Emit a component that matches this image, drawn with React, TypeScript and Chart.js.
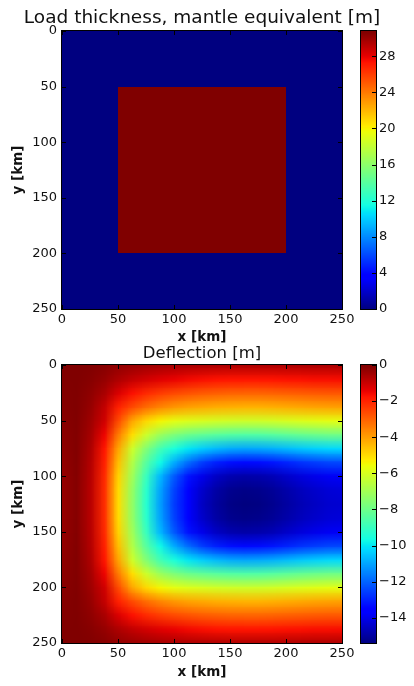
import React, { useEffect, useRef } from "react";
import { Chart, registerables } from "chart.js";

Chart.register(...registerables);

// ---------------- data ----------------
const AXIS_TICKS_KM = [0, 50, 100, 150, 200, 250];
const LOAD_CB_TICKS = [0, 4, 8, 12, 16, 20, 24, 28];
const DEFL_CB_TICKS = [0, -2, -4, -6, -8, -10, -12, -14];

const LOAD_CB_MIN = 0;
const LOAD_CB_MAX = 30.8;
const DEFL_CB_MIN = -15.4;
const DEFL_CB_MAX = 0;

// Load: 10 km cells (cell centres)
const LOAD_X_KM = [5, 15, 25, 35, 45, 55, 65, 75, 85, 95, 105, 115, 125, 135, 145, 155, 165, 175, 185, 195, 205, 215, 225, 235, 245];
const LOAD_Y_KM = [5, 15, 25, 35, 45, 55, 65, 75, 85, 95, 105, 115, 125, 135, 145, 155, 165, 175, 185, 195, 205, 215, 225, 235, 245];
const LOAD_ROW_OUTSIDE = [0, 0, 0, 0, 0, 0, 0, 0, 0, 0, 0, 0, 0, 0, 0, 0, 0, 0, 0, 0, 0, 0, 0, 0, 0];
const LOAD_ROW_INSIDE = [0, 0, 0, 0, 0, 30.8, 30.8, 30.8, 30.8, 30.8, 30.8, 30.8, 30.8, 30.8, 30.8, 30.8, 30.8, 30.8, 30.8, 30.8, 0, 0, 0, 0, 0];
const LOAD_THICKNESS = [
  LOAD_ROW_OUTSIDE, LOAD_ROW_OUTSIDE, LOAD_ROW_OUTSIDE, LOAD_ROW_OUTSIDE, LOAD_ROW_OUTSIDE,
  LOAD_ROW_INSIDE, LOAD_ROW_INSIDE, LOAD_ROW_INSIDE, LOAD_ROW_INSIDE, LOAD_ROW_INSIDE,
  LOAD_ROW_INSIDE, LOAD_ROW_INSIDE, LOAD_ROW_INSIDE, LOAD_ROW_INSIDE, LOAD_ROW_INSIDE,
  LOAD_ROW_INSIDE, LOAD_ROW_INSIDE, LOAD_ROW_INSIDE, LOAD_ROW_INSIDE, LOAD_ROW_INSIDE,
  LOAD_ROW_OUTSIDE, LOAD_ROW_OUTSIDE, LOAD_ROW_OUTSIDE, LOAD_ROW_OUTSIDE, LOAD_ROW_OUTSIDE,
];

// Deflection: values read at nodes every 12.5 km
const DEFL_X_KM = [0, 12.5, 25, 37.5, 50, 62.5, 75, 87.5, 100, 112.5, 125, 137.5, 150, 162.5, 175, 187.5, 200, 212.5, 225, 237.5, 250];
const DEFL_Y_KM = [0, 12.5, 25, 37.5, 50, 62.5, 75, 87.5, 100, 112.5, 125, 137.5, 150, 162.5, 175, 187.5, 200, 212.5, 225, 237.5, 250];
const DEFL_Y000 = [-0.02, 0, -0.03, -0.1, -0.24, -0.34, -0.42, -0.49, -0.55, -0.58, -0.61, -0.63, -0.65, -0.65, -0.65, -0.64, -0.63, -0.62, -0.61, -0.6, -0.6];
const DEFL_Y012 = [-0.03, -0.01, -0.1, -0.28, -0.6, -0.88, -1.1, -1.28, -1.42, -1.53, -1.62, -1.68, -1.71, -1.72, -1.72, -1.7, -1.67, -1.65, -1.62, -1.61, -1.6];
const DEFL_Y025 = [-0.06, -0.02, -0.2, -0.55, -1.2, -1.65, -2.05, -2.35, -2.57, -2.72, -2.85, -2.94, -3.0, -3.02, -3.01, -2.98, -2.93, -2.88, -2.84, -2.81, -2.8];
const DEFL_Y037 = [-0.08, -0.02, -0.3, -0.9, -1.9, -2.6, -3.15, -3.55, -3.85, -4.02, -4.13, -4.22, -4.28, -4.31, -4.3, -4.26, -4.19, -4.12, -4.06, -4.02, -4.0];
const DEFL_Y050 = [-0.12, -0.03, -0.4, -1.05, -2.6, -4.1, -4.9, -5.4, -5.7, -5.85, -5.95, -6.05, -6.1, -6.14, -6.12, -6.06, -5.97, -5.87, -5.79, -5.73, -5.71];
const DEFL_Y062 = [-0.17, -0.04, -0.5, -1.45, -3.4, -5.0, -6.2, -7.1, -7.65, -8.0, -8.2, -8.35, -8.45, -8.5, -8.47, -8.39, -8.25, -8.11, -8.0, -7.92, -7.89];
const DEFL_Y075 = [-0.21, -0.05, -0.6, -1.75, -4.1, -6.2, -7.6, -8.8, -9.55, -10.0, -10.4, -10.7, -10.91, -10.98, -10.94, -10.84, -10.66, -10.48, -10.34, -10.23, -10.2];
const DEFL_Y087 = [-0.26, -0.06, -0.68, -1.9, -4.5, -6.7, -8.4, -9.7, -10.9, -11.85, -12.57, -13.01, -13.27, -13.35, -13.31, -13.18, -12.96, -12.74, -12.57, -12.44, -12.4];
const DEFL_Y100 = [-0.29, -0.07, -0.73, -2.05, -4.83, -7.04, -8.97, -10.71, -12.16, -13.22, -13.99, -14.48, -14.76, -14.86, -14.81, -14.67, -14.43, -14.19, -13.99, -13.85, -13.8];
const DEFL_Y112 = [-0.3, -0.08, -0.75, -2.1, -4.97, -7.25, -9.23, -11.02, -12.51, -13.6, -14.4, -14.9, -15.19, -15.29, -15.24, -15.09, -14.85, -14.6, -14.4, -14.25, -14.2];
const DEFL_Y125 = [-0.3, -0.08, -0.75, -2.12, -5.0, -7.3, -9.3, -11.1, -12.6, -13.7, -14.5, -15.0, -15.3, -15.4, -15.35, -15.2, -14.95, -14.7, -14.5, -14.35, -14.3];
const DEFLECTION = [
  DEFL_Y000, DEFL_Y012, DEFL_Y025, DEFL_Y037, DEFL_Y050, DEFL_Y062, DEFL_Y075, DEFL_Y087, DEFL_Y100, DEFL_Y112,
  DEFL_Y125,
  DEFL_Y112, DEFL_Y100, DEFL_Y087, DEFL_Y075, DEFL_Y062, DEFL_Y050, DEFL_Y037, DEFL_Y025, DEFL_Y012, DEFL_Y000,
];

// ---------------- styling ----------------
const FONT = "'DejaVu Sans', 'Liberation Sans', sans-serif";
const TEXT = "#111";

function seg(t: number, pts: number[][]) {
  for (let i = 1; i < pts.length; i++) {
    if (t <= pts[i][0]) {
      const [t0, v0] = pts[i - 1];
      const [t1, v1] = pts[i];
      return v0 + ((v1 - v0) * (t - t0)) / (t1 - t0);
    }
  }
  return pts[pts.length - 1][1];
}
function jet(t: number): number[] {
  const u = Math.min(1, Math.max(0, t));
  const r = seg(u, [[0, 0], [0.35, 0], [0.66, 1], [0.89, 1], [1, 0.5]]);
  const g = seg(u, [[0, 0], [0.125, 0], [0.375, 1], [0.64, 1], [0.91, 0], [1, 0]]);
  const b = seg(u, [[0, 0.5], [0.11, 1], [0.34, 1], [0.65, 0], [1, 0]]);
  return [Math.round(r * 255), Math.round(g * 255), Math.round(b * 255)];
}
function jetCss(t: number) {
  const [r, g, b] = jet(t);
  return `rgb(${r},${g},${b})`;
}

const minusFmt = (v: number) => (v < 0 ? "\u2212" + Math.abs(v) : String(v));

function clipArea(ctx: CanvasRenderingContext2D, ca: any) {
  ctx.beginPath();
  ctx.rect(ca.left, ca.top, ca.right - ca.left, ca.bottom - ca.top);
  ctx.clip();
}

const loadCellsPlugin = {
  id: "loadCells",
  beforeDatasetsDraw(chart: any) {
    const { ctx, chartArea: ca } = chart;
    const x = chart.scales.x;
    const y = chart.scales.y;
    const hx = (LOAD_X_KM[1] - LOAD_X_KM[0]) / 2;
    const hy = (LOAD_Y_KM[1] - LOAD_Y_KM[0]) / 2;
    ctx.save();
    clipArea(ctx, ca);
    LOAD_THICKNESS.forEach((row, j) => {
      const ya = Math.round(y.getPixelForValue(LOAD_Y_KM[j] - hy));
      const yb = Math.round(y.getPixelForValue(LOAD_Y_KM[j] + hy));
      row.forEach((v, i) => {
        const xa = Math.round(x.getPixelForValue(LOAD_X_KM[i] - hx));
        const xb = Math.round(x.getPixelForValue(LOAD_X_KM[i] + hx));
        ctx.fillStyle = jetCss((v - LOAD_CB_MIN) / (LOAD_CB_MAX - LOAD_CB_MIN));
        ctx.fillRect(Math.min(xa, xb), Math.min(ya, yb), Math.abs(xb - xa), Math.abs(yb - ya));
      });
    });
    ctx.restore();
  },
};

const deflectionPlugin = {
  id: "deflectionField",
  beforeDatasetsDraw(chart: any) {
    const { ctx, chartArea: ca } = chart;
    const x = chart.scales.x;
    const y = chart.scales.y;
    const nx = DEFL_X_KM.length;
    const ny = DEFL_Y_KM.length;
    const off = document.createElement("canvas");
    off.width = nx;
    off.height = ny;
    const octx = off.getContext("2d")!;
    const img = octx.createImageData(nx, ny);
    DEFLECTION.forEach((row, j) =>
      row.forEach((v, i) => {
        const [r, g, b] = jet((v - DEFL_CB_MIN) / (DEFL_CB_MAX - DEFL_CB_MIN));
        const k = (j * nx + i) * 4;
        img.data[k] = r;
        img.data[k + 1] = g;
        img.data[k + 2] = b;
        img.data[k + 3] = 255;
      })
    );
    octx.putImageData(img, 0, 0);
    const hx = (DEFL_X_KM[1] - DEFL_X_KM[0]) / 2;
    const hy = (DEFL_Y_KM[1] - DEFL_Y_KM[0]) / 2;
    const xl = x.getPixelForValue(DEFL_X_KM[0] - hx);
    const xr = x.getPixelForValue(DEFL_X_KM[nx - 1] + hx);
    const yt = y.getPixelForValue(DEFL_Y_KM[0] - hy);
    const yb = y.getPixelForValue(DEFL_Y_KM[ny - 1] + hy);
    ctx.save();
    clipArea(ctx, ca);
    ctx.imageSmoothingEnabled = true;
    ctx.drawImage(off, xl, yt, xr - xl, yb - yt);
    ctx.restore();
  },
};

const heatFramePlugin = {
  id: "heatFrame",
  afterDraw(chart: any) {
    const { ctx, chartArea: ca } = chart;
    const x = chart.scales.x;
    const y = chart.scales.y;
    const L = 4;
    ctx.save();
    ctx.strokeStyle = "#000";
    ctx.lineWidth = 1;
    ctx.beginPath();
    x.ticks.forEach((t: any) => {
      const p = Math.round(x.getPixelForValue(t.value)) + 0.5;
      ctx.moveTo(p, ca.bottom);
      ctx.lineTo(p, ca.bottom - L);
      ctx.moveTo(p, ca.top);
      ctx.lineTo(p, ca.top + L);
    });
    y.ticks.forEach((t: any) => {
      const p = Math.round(y.getPixelForValue(t.value)) + 0.5;
      ctx.moveTo(ca.left, p);
      ctx.lineTo(ca.left + L, p);
      ctx.moveTo(ca.right, p);
      ctx.lineTo(ca.right - L, p);
    });
    ctx.stroke();
    ctx.strokeRect(ca.left - 0.5, ca.top - 0.5, ca.right - ca.left + 1, ca.bottom - ca.top + 1);
    ctx.restore();
  },
};

const colorbarPlugin = {
  id: "colorbar",
  beforeDatasetsDraw(chart: any) {
    const { ctx, chartArea: ca } = chart;
    const y = chart.scales.y;
    const min = y.min;
    const max = y.max;
    const N = 256;
    ctx.save();
    clipArea(ctx, ca);
    for (let i = 0; i < N; i++) {
      const v0 = min + ((max - min) * i) / N;
      const v1 = min + ((max - min) * (i + 1)) / N;
      const p0 = y.getPixelForValue(v0);
      const p1 = y.getPixelForValue(v1);
      ctx.fillStyle = jetCss((i + 0.5) / N);
      ctx.fillRect(ca.left, Math.min(p0, p1) - 0.5, ca.right - ca.left, Math.abs(p1 - p0) + 1);
    }
    ctx.restore();
  },
  afterDraw(chart: any) {
    const { ctx, chartArea: ca } = chart;
    const y = chart.scales.y;
    ctx.save();
    ctx.strokeStyle = "#000";
    ctx.lineWidth = 1;
    ctx.beginPath();
    y.ticks.forEach((t: any) => {
      const p = Math.round(y.getPixelForValue(t.value)) + 0.5;
      ctx.moveTo(ca.right, p);
      ctx.lineTo(ca.right - 4, p);
    });
    ctx.stroke();
    ctx.strokeRect(ca.left - 0.5, ca.top - 0.5, ca.right - ca.left + 1, ca.bottom - ca.top + 1);
    ctx.restore();
  },
};

const tickFont = { family: FONT, size: 13 };
const axisTitleFont = { family: FONT, size: 13.5, weight: "bold" as const };
const noGrid = { display: false, drawTicks: false, tickLength: 0 };

function heatmapConfig(p: {
  title: string;
  titleSize: number;
  titlePadTop: number;
  titlePadBottom: number;
  bottomH: number;
  xTitlePadBottom: number;
  plugin: any;
}) {
  const setTicks = (s: any) => {
    s.ticks = AXIS_TICKS_KM.map((v) => ({ value: v }));
  };
  return {
    type: "scatter" as const,
    data: { datasets: [] },
    plugins: [p.plugin, heatFramePlugin],
    options: {
      responsive: false,
      animation: false as const,
      events: [],
      layout: { padding: 0 },
      plugins: {
        legend: { display: false },
        tooltip: { enabled: false },
        title: {
          display: true,
          text: p.title,
          color: TEXT,
          font: { family: FONT, size: p.titleSize, weight: "normal" as const },
          padding: { top: p.titlePadTop, bottom: p.titlePadBottom },
        },
      },
      scales: {
        x: {
          type: "linear" as const,
          position: "bottom" as const,
          min: 0,
          max: 250,
          grid: noGrid,
          border: { display: false },
          afterBuildTicks: setTicks,
          ticks: { font: tickFont, color: TEXT, padding: 3, maxRotation: 0, autoSkip: false },
          title: {
            display: true,
            text: "x [km]",
            color: TEXT,
            font: axisTitleFont,
            padding: { top: 0, bottom: p.xTitlePadBottom },
          },
          afterFit: (s: any) => {
            s.height = p.bottomH;
          },
        },
        y: {
          type: "linear" as const,
          position: "left" as const,
          min: 0,
          max: 250,
          reverse: true,
          grid: noGrid,
          border: { display: false },
          afterBuildTicks: setTicks,
          ticks: { font: tickFont, color: TEXT, padding: 5, autoSkip: false },
          title: {
            display: true,
            text: "y [km]",
            color: TEXT,
            font: axisTitleFont,
            padding: { top: 10.7, bottom: 0 },
          },
          afterFit: (s: any) => {
            s.width = 62;
          },
        },
        y2: {
          type: "linear" as const,
          position: "right" as const,
          min: 0,
          max: 250,
          reverse: true,
          grid: noGrid,
          border: { display: false },
          ticks: { display: false },
          afterFit: (s: any) => {
            s.width = 62;
          },
        },
      },
    },
  };
}

function colorbarConfig(p: {
  min: number;
  max: number;
  ticks: number[];
  padTop: number;
  padBottom: number;
}) {
  return {
    type: "scatter" as const,
    data: { datasets: [] },
    plugins: [colorbarPlugin],
    options: {
      responsive: false,
      animation: false as const,
      events: [],
      layout: { padding: { left: 21, top: p.padTop, right: 0, bottom: p.padBottom } },
      plugins: { legend: { display: false }, tooltip: { enabled: false } },
      scales: {
        x: { type: "linear" as const, display: false, min: 0, max: 1 },
        y: {
          type: "linear" as const,
          position: "right" as const,
          min: p.min,
          max: p.max,
          grid: noGrid,
          border: { display: false },
          afterBuildTicks: (s: any) => {
            s.ticks = p.ticks.map((v) => ({ value: v }));
          },
          ticks: {
            font: tickFont,
            color: TEXT,
            padding: 3,
            autoSkip: false,
            callback: (v: any) => minusFmt(Number(v)),
          },
          afterFit: (s: any) => {
            s.width = 38;
          },
        },
      },
    },
  };
}

export default function App() {
  const c1 = useRef<HTMLCanvasElement>(null);
  const c2 = useRef<HTMLCanvasElement>(null);
  const c3 = useRef<HTMLCanvasElement>(null);
  const c4 = useRef<HTMLCanvasElement>(null);

  useEffect(() => {
    const charts: Chart[] = [];
    charts.push(
      new Chart(
        c1.current!,
        heatmapConfig({
          title: "Load thickness, mantle equivalent [m]",
          titleSize: 18.5,
          titlePadTop: 7.5,
          titlePadBottom: 1.3,
          bottomH: 41,
          xTitlePadBottom: 4.3,
          plugin: loadCellsPlugin,
        }) as any
      )
    );
    charts.push(
      new Chart(
        c2.current!,
        colorbarConfig({ min: LOAD_CB_MIN, max: LOAD_CB_MAX, ticks: LOAD_CB_TICKS, padTop: 31, padBottom: 41 }) as any
      )
    );
    charts.push(
      new Chart(
        c3.current!,
        heatmapConfig({
          title: "Deflection [m]",
          titleSize: 16.5,
          titlePadTop: 3.7,
          titlePadBottom: 1.5,
          bottomH: 43,
          xTitlePadBottom: 5.8,
          plugin: deflectionPlugin,
        }) as any
      )
    );
    charts.push(
      new Chart(
        c4.current!,
        colorbarConfig({ min: DEFL_CB_MIN, max: DEFL_CB_MAX, ticks: DEFL_CB_TICKS, padTop: 25, padBottom: 43 }) as any
      )
    );
    return () => charts.forEach((c) => c.destroy());
  }, []);

  const abs = (left: number, top: number): React.CSSProperties => ({ position: "absolute", left, top });

  return (
    <div style={{ position: "absolute", left: 0, top: 0, width: 414, height: 686, background: "#fff" }}>
      <canvas ref={c1} width={404} height={350} style={abs(0, 0)} />
      <canvas ref={c2} width={74} height={350} style={abs(340, 0)} />
      <canvas ref={c3} width={404} height={346} style={abs(0, 340)} />
      <canvas ref={c4} width={74} height={346} style={abs(340, 340)} />
    </div>
  );
}
